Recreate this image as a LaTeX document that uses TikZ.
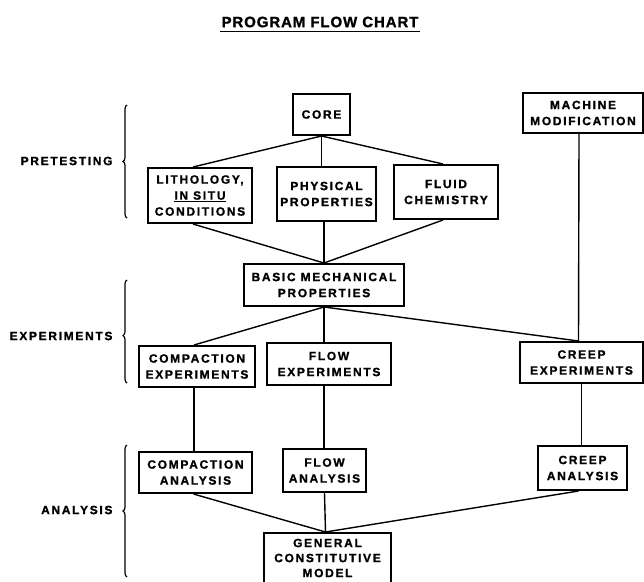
\documentclass[tikz,border=0pt]{standalone}
\usepackage{fontspec}
\setmainfont{Liberation Sans}[LetterSpace=14, BoldFeatures={FakeBold=1.2}]
\newfontfamily\titlefont{Liberation Sans}[LetterSpace=6, BoldFeatures={FakeBold=1.2}]
\usetikzlibrary{decorations.pathreplacing}

\begin{document}
\begin{tikzpicture}[
		x=1pt, y=-1pt,
		font=\bfseries\fontsize{12}{16}\selectfont,
		box/.style={draw, line width=2pt, align=center, inner sep=0pt},
		link/.style={line width=1.4pt},
		phase/.style={anchor=east},
		bracket/.style={decorate, decoration={brace, amplitude=4pt}, line width=1.2pt},
	]

	\useasboundingbox (0,0) rectangle (644,581);
	\clip (0,0) rectangle (644,581);

	% title
	\node[font=\titlefont\bfseries\fontsize{15}{18}\selectfont, inner xsep=1pt, inner ysep=4pt]
		(title) at (320,22) {PROGRAM FLOW CHART};
	\draw[line width=1.8pt] (title.south west) -- (title.south east);

	% phase labels
	\node[phase] (pretest) at (116,161) {PRETESTING};
	\node[phase] (experim) at (116,336) {EXPERIMENTS};
	\node[phase] (analys) at (116,510) {ANALYSIS};

	\draw[bracket] (127,218) -- (127,105);
	\draw[bracket, decoration={aspect=0.46}] (127,383) -- (127,280);
	\draw[bracket] (127,577) -- (127,445);

	% boxes
	\node[box, minimum width=57pt, minimum height=41pt] (core) at (321.5,114.5) {CORE};
	\node[box, minimum width=120pt, minimum height=40pt] (mach) at (583,113)
	{MACHINE\\MODIFICATION};

	\node[box, minimum width=104pt, minimum height=55pt] (lith) at (200,195.5)
	{LITHOLOGY,\\\underline{IN SITU}\\CONDITIONS};
	\node[box, minimum width=99pt, minimum height=54pt] (phys) at (326.5,194)
	{PHYSICAL\\PROPERTIES};
	\node[box, minimum width=104pt, minimum height=54pt] (fluid) at (446,192)
	{FLUID\\CHEMISTRY};

	\node[box, minimum width=160pt, minimum height=42pt] (basic) at (324,285)
	{BASIC MECHANICAL\\PROPERTIES};

	\node[box, minimum width=116pt, minimum height=41pt] (compexp) at (197,366.5)
	{COMPACTION\\EXPERIMENTS};
	\node[box, minimum width=124pt, minimum height=42pt] (flowexp) at (329,364)
	{FLOW\\EXPERIMENTS};
	\node[box, minimum width=123pt, minimum height=41pt] (creepexp) at (581.5,362.5)
	{CREEP\\EXPERIMENTS};

	\node[box, minimum width=113pt, minimum height=41pt] (compana) at (195.5,472.5)
	{COMPACTION\\ANALYSIS};
	\node[box, minimum width=83pt, minimum height=43pt] (flowana) at (324.5,470.5)
	{FLOW\\ANALYSIS};
	\node[box, minimum width=89pt, minimum height=44pt] (creepana) at (582.5,468)
	{CREEP\\ANALYSIS};

	\node[box, minimum width=127pt, minimum height=50pt,
		font=\bfseries\fontsize{12}{15}\selectfont] (general) at (327.5,558)
	{GENERAL\\CONSTITUTIVE\\MODEL};

	% core -> pretesting
	\draw[link] (core.south) -- ([xshift=-7pt]lith.north);
	\draw[link] (core.south) -- (core.south |- phys.north);
	\draw[link] (core.south) -- ([xshift=-3pt]fluid.north);

	% pretesting -> basic properties
	\draw[link] ([xshift=-7pt]lith.south) -- (basic.north);
	\draw[link] (basic.north |- phys.south) -- (basic.north);
	\draw[link] ([xshift=-3pt]fluid.south) -- (basic.north);

	% basic properties -> experiments
	\draw[link] (basic.south) -- ([xshift=-3pt]compexp.north);
	\draw[link] (basic.south) -- (basic.south |- flowexp.north);
	\draw[link] (basic.south) -- ([xshift=-3pt]creepexp.north);
	\draw[link] ([xshift=-4pt]mach.south) -- ([xshift=-3pt]creepexp.north);

	% experiments -> analysis
	\draw[link] ([xshift=-3pt]compexp.south) -- ([xshift=-3pt]compexp.south |- compana.north);
	\draw[link] (basic.south |- flowexp.south) -- (basic.south |- flowana.north);
	\draw[link] (creepexp.south) -- (creepexp.south |- creepana.north);

	% analysis -> model
	\draw[link] ([xshift=-2pt]compana.south) -- ([xshift=-2pt]general.north);
	\draw[link] (flowana.south) -- ([xshift=-2pt]general.north);
	\draw[link] ([xshift=-4pt]creepana.south) -- ([xshift=-2pt]general.north);

\end{tikzpicture}
\end{document}
